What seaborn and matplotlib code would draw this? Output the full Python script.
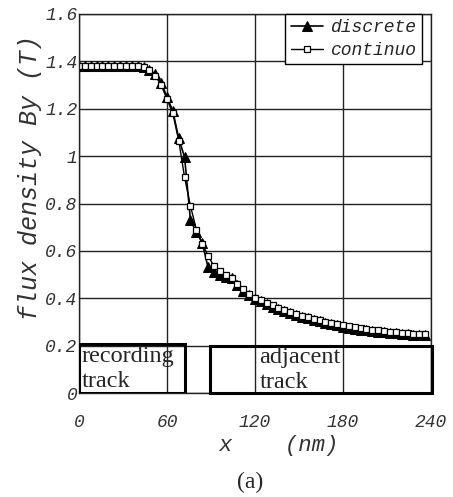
import numpy as np
import pandas as pd
import seaborn as sns
import matplotlib.pyplot as plt
from matplotlib.patches import Rectangle

# dados (x em nm, By em T)
x_nm = list(range(0, 240, 4))

discrete = [1.38] * 11 + [
    1.375, 1.365, 1.345, 1.31, 1.25, 1.19, 1.075, 0.995, 0.73, 0.68,
    0.635, 0.53, 0.51, 0.498, 0.49, 0.484, 0.455, 0.432, 0.414, 0.398,
    0.387, 0.376, 0.365, 0.355, 0.346, 0.338, 0.330, 0.322, 0.315, 0.308,
    0.302, 0.296, 0.290, 0.285, 0.280, 0.276, 0.272, 0.268, 0.265, 0.262,
    0.259, 0.256, 0.254, 0.252, 0.250, 0.248, 0.246, 0.245, 0.244,
]

continuo = [1.38] * 11 + [
    1.375, 1.362, 1.34, 1.30, 1.24, 1.18, 1.065, 0.91, 0.79, 0.69,
    0.63, 0.58, 0.535, 0.515, 0.50, 0.485, 0.46, 0.437, 0.419, 0.403,
    0.392, 0.381, 0.370, 0.360, 0.351, 0.343, 0.335, 0.327, 0.320, 0.313,
    0.307, 0.301, 0.295, 0.290, 0.285, 0.281, 0.277, 0.273, 0.270, 0.267,
    0.264, 0.261, 0.259, 0.257, 0.255, 0.253, 0.251, 0.250, 0.249,
]

x_ticks = [0, 60, 120, 180, 240]
y_ticks = [0, 0.2, 0.4, 0.6, 0.8, 1.0, 1.2, 1.4, 1.6]
y_tick_labels = ["0", "0.2", "0.4", "0.6", "0.8", "1", "1.2", "1.4", "1.6"]

df = pd.DataFrame({"x": x_nm, "discrete": discrete, "continuo": continuo})

sns.set_style("white")
plt.rcParams['font.family'] = ['Liberation Mono', 'DejaVu Sans']

fig = plt.figure(figsize=(4.53, 4.97), dpi=100)
ax = fig.add_axes([79 / 453, 1 - 393 / 497, 352 / 453, 379 / 497])

sns.lineplot(data=df, x="x", y="discrete", ax=ax, color="black", lw=1.2,
             marker="^", markersize=7, markerfacecolor="black",
             markeredgecolor="black", label="discrete")
sns.lineplot(data=df, x="x", y="continuo", ax=ax, color="black", lw=1.0,
             marker="s", markersize=4, markerfacecolor="white",
             markeredgecolor="black", markeredgewidth=0.9, label="continuo")

ax.set_xlim(0, 240)
ax.set_ylim(0, 1.6)
ax.set_xticks(x_ticks)
ax.set_xticklabels([str(v) for v in x_ticks])
ax.set_yticks(y_ticks)
ax.set_yticklabels(y_tick_labels)
ax.tick_params(axis="x", length=0, pad=15, labelsize=13)
ax.tick_params(axis="y", length=0, pad=1, labelsize=13)
for lab in ax.get_xticklabels() + ax.get_yticklabels():
    lab.set_fontstyle("italic")
    lab.set_color("#333333")

ax.grid(True, color="#222222", lw=1)
for s in ax.spines.values():
    s.set_color("#222222")
    s.set_linewidth(1)
ax.set_xlabel("")
ax.set_ylabel("")

# caixas das trilhas
ax.add_patch(Rectangle((0, 0), 72, 0.205, fill=False, ec="black", lw=2.2, zorder=3))
ax.add_patch(Rectangle((89, 0), 152, 0.198, fill=False, ec="black", lw=2.2,
                       zorder=3, clip_on=False))
ax.text(2, 0.2, "recording\ntrack", family="Liberation Serif", fontsize=17.5,
        va="top", ha="left", linespacing=1.25)
ax.text(123, 0.195, "adjacent\ntrack", family="Liberation Serif", fontsize=17.5,
        va="top", ha="left", linespacing=1.25)

leg = ax.legend(loc="upper right", bbox_to_anchor=(0.974, 1.0), borderaxespad=0,
                frameon=True, fancybox=False, edgecolor="black", fontsize=13,
                handlelength=1.8, handletextpad=0.4, borderpad=0.3,
                labelspacing=0.3, framealpha=1)
leg.get_frame().set_linewidth(1)
for t in leg.get_texts():
    t.set_fontstyle("italic")

fig.text(30 / 453, 1 - 178 / 497, "flux density By (T)", rotation=90,
         ha="center", va="center", fontsize=18, style="italic", color="#333333")
fig.text(278 / 453, 1 - 446 / 497, "x    (nm)", ha="center", va="center",
         fontsize=16, style="italic", color="#333333")
fig.text(250 / 453, 1 - 482 / 497, "(a)", ha="center", va="center",
         family="Liberation Serif", fontsize=17)

fig.savefig("out.png", dpi=100)
